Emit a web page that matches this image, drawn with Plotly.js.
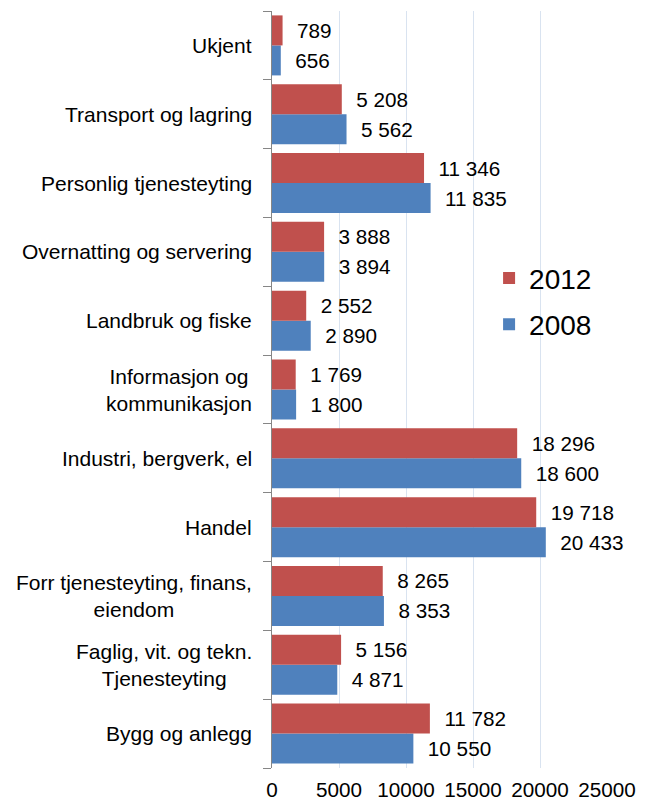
<!DOCTYPE html>
<html>
<head>
<meta charset="utf-8">
<script src="https://cdn.plot.ly/plotly-3.0.1.min.js"></script>
<style>html,body{margin:0;padding:0;background:#fff;}#chart{width:649px;height:802px;}</style>
</head>
<body>
<div id="chart"></div>
<script>
// Categories, bottom to top
const categories = ['Bygg og anlegg', 'Faglig, vit. og tekn. Tjenesteyting', 'Forr tjenesteyting, finans, eiendom', 'Handel', 'Industri, bergverk, el', 'Informasjon og kommunikasjon', 'Landbruk og fiske', 'Overnatting og servering', 'Personlig tjenesteyting', 'Transport og lagring', 'Ukjent'];
const categoryLabels = ['Bygg og anlegg', 'Faglig, vit. og tekn.<br>Tjenesteyting', 'Forr tjenesteyting, finans,<br>eiendom', 'Handel', 'Industri, bergverk, el', 'Informasjon og<br>kommunikasjon', 'Landbruk og fiske', 'Overnatting og servering', 'Personlig tjenesteyting', 'Transport og lagring', 'Ukjent'];
const values2012 = [11782, 5156, 8265, 19718, 18296, 1769, 2552, 3888, 11346, 5208, 789];
const values2008 = [10550, 4871, 8353, 20433, 18600, 1800, 2890, 3894, 11835, 5562, 656];
const xTicks = [0, 5000, 10000, 15000, 20000, 25000];
const xTickLabels = ['0', '5000', '10000', '15000', '20000', '25000'];

const FONT = 'Liberation Sans, Arial, sans-serif';
function fmt(v) {
  return String(v).replace(/\B(?=(\d{3})+(?!\d))/g, ' ');
}
const pad = '\u00a0\u00a0';

const trace2008 = {
  type: 'bar', orientation: 'h', name: '2008', legendgroup: 'g2008', legendrank: 2,
  y: categories, x: values2008,
  marker: {color: '#4F81BD'},
  text: values2008.map(v => pad + fmt(v)), texttemplate: '%{text}',
  textposition: 'outside', constraintext: 'none', cliponaxis: false,
  textfont: {family: FONT, size: 20.7, color: '#000'},
  hoverinfo: 'x+y'
};
const trace2012 = {
  type: 'bar', orientation: 'h', name: '2012', legendgroup: 'g2012', legendrank: 1,
  y: categories, x: values2012,
  marker: {color: '#C0504D'},
  text: values2012.map(v => pad + fmt(v)), texttemplate: '%{text}',
  textposition: 'outside', constraintext: 'none', cliponaxis: false,
  textfont: {family: FONT, size: 20.7, color: '#000'},
  hoverinfo: 'x+y'
};

const annotations = categories.map((c, i) => ({
  xref: 'paper', yref: 'y', x: 0, y: c,
  xanchor: 'right', yanchor: 'middle', xshift: -18,
  text: categoryLabels[i], align: 'center', showarrow: false,
  font: {family: FONT, size: 21, color: '#000'}
}));

const layout = {
  width: 649, height: 802,
  margin: {l: 272, r: 42, t: 11, b: 34, pad: 0},
  paper_bgcolor: '#fff', plot_bgcolor: '#fff',
  font: {family: FONT, color: '#000'},
  barmode: 'group', bargap: 0.128, bargroupgap: 0,
  showlegend: true,
  legend: {
    x: 0.648, y: 0.680, xanchor: 'left', yanchor: 'top',
    font: {family: FONT, size: 28, color: '#000'},
    traceorder: 'grouped', tracegroupgap: 7,
    bgcolor: 'rgba(0,0,0,0)', borderwidth: 0
  },
  xaxis: {
    range: [0, 25000], tickvals: xTicks, ticktext: xTickLabels,
    showgrid: true, gridcolor: '#D9E3F0', gridwidth: 1,
    zeroline: false, showline: false, ticks: '', ticklabelstandoff: 7,
    tickfont: {family: FONT, size: 20.7, color: '#000'}
  },
  yaxis: {
    type: 'category', range: [-0.5, 10.5], autorange: false,
    showticklabels: false, tickson: 'boundaries', ticks: 'outside',
    ticklen: 8, tickcolor: '#868686', tickwidth: 1,
    showline: true, linecolor: '#868686', linewidth: 1.5,
    showgrid: false, zeroline: false
  },
  annotations: annotations
};

Plotly.newPlot('chart', [trace2008, trace2012], layout, {staticPlot: true, displayModeBar: false});
</script>
</body>
</html>
